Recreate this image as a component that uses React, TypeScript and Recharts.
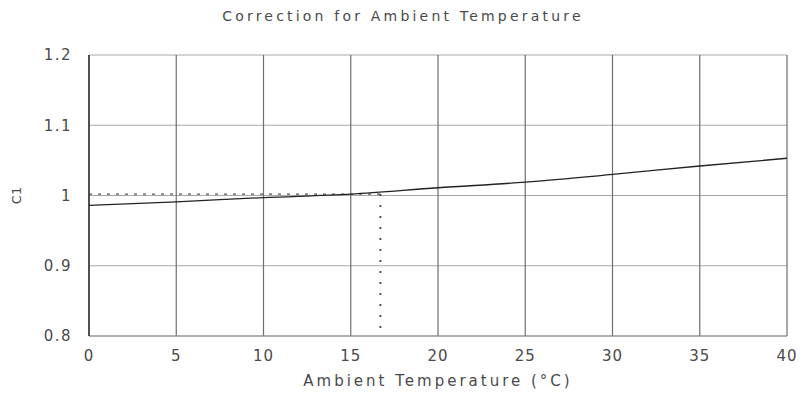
import {
  LineChart,
  Line,
  XAxis,
  YAxis,
  CartesianGrid,
  ReferenceLine,
} from 'recharts'

const temps = [0, 5, 10, 15, 20, 25, 30, 35, 40]
const c1Values = [0.986, 0.991, 0.997, 1.002, 1.011, 1.019, 1.03, 1.042, 1.053]
const xTicks = [0, 5, 10, 15, 20, 25, 30, 35, 40]
const yTicks = [0.8, 0.9, 1, 1.1, 1.2]
const markTemp = 16.7
const markC1 = 1.002

const data = temps.map((t, i) => ({ temp: t, c1: c1Values[i] }))

const FONT = '"DejaVu Sans", sans-serif'
const TEXT = '#4a4a4a'

export default function App() {
  return (
    <div style={{ position: 'absolute', left: 0, top: 0, width: 801, height: 398, background: '#fff', fontFamily: FONT }}>
      <div style={{
        position: 'absolute', top: 8, left: 0, width: 806, textAlign: 'center',
        fontSize: 14, letterSpacing: 3.2, color: TEXT,
      }}>
        Correction for Ambient Temperature
      </div>
      <LineChart width={801} height={398} data={data}
        margin={{ top: 55, right: 14, bottom: 22, left: 0 }}>
        <CartesianGrid vertical={false} stroke="#a8a8a8" strokeWidth={1} />
        <CartesianGrid horizontal={false} stroke="#6e6e6e" strokeWidth={1.2} />
        <XAxis dataKey="temp" type="number" domain={[0, 40]} ticks={xTicks}
          height={40} tickLine={false} tickMargin={8}
          axisLine={{ stroke: '#8a8a8a' }}
          tick={{ fontSize: 15, fill: TEXT, letterSpacing: 1 }}
          label={{ value: 'Ambient Temperature (°C)', position: 'bottom', offset: -1,
            style: { fontSize: 15, fill: TEXT, letterSpacing: 3 } }} />
        <YAxis type="number" domain={[0.8, 1.2]} ticks={yTicks} width={89}
          tickLine={false} tickMargin={11}
          axisLine={{ stroke: '#333', strokeWidth: 1.5 }}
          tick={{ fontSize: 15, fill: TEXT, letterSpacing: 1.5 }}
          label={{ value: 'C1', angle: -90, position: 'insideLeft', offset: 16,
            style: { fontSize: 13, fill: TEXT, textAnchor: 'middle' } }} />
        <ReferenceLine segment={[{ x: 0, y: markC1 }, { x: markTemp, y: markC1 }]}
          stroke="#555" strokeWidth={1.2} strokeDasharray="3 6" ifOverflow="visible" />
        <ReferenceLine segment={[{ x: markTemp, y: markC1 }, { x: markTemp, y: 0.8 }]}
          stroke="#444" strokeWidth={1.8} strokeDasharray="2 9" ifOverflow="visible" />
        <Line type="monotone" dataKey="c1" stroke="#222" strokeWidth={1.3}
          dot={false} isAnimationActive={false} />
      </LineChart>
    </div>
  )
}
